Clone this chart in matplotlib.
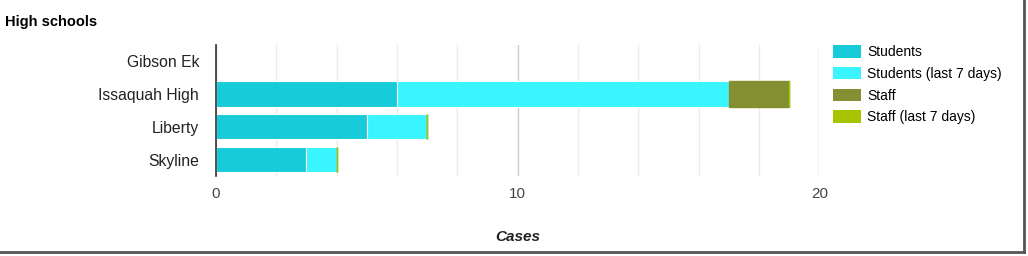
import numpy as np
import matplotlib
matplotlib.use("Agg")
import matplotlib.pyplot as plt
from matplotlib.lines import Line2D
from matplotlib.patches import Patch

schools = ["Gibson Ek", "Issaquah High", "Liberty", "Skyline"]
students = [np.nan, 6, 5, 3]
students_7d = [np.nan, 11, 2, 1]
staff = [np.nan, 2, 0, 0]
staff_7d = [np.nan, 0, 0, 0]

series = ["Students", "Students (last 7 days)", "Staff", "Staff (last 7 days)"]
colors = ["#17cbd9", "#3af4fe", "#848f32", "#a8c400"]
x_ticks = [0, 10, 20]

plt.rcParams["font.family"] = ["Liberation Sans", "DejaVu Sans"]

fig = plt.figure(figsize=(10.28, 2.56), dpi=100)
ax = fig.add_axes([0.21, 0.3125, 0.587, 0.512])

y = np.arange(len(schools))
left = np.zeros(len(schools))
for vals, col in zip([students, students_7d, staff, staff_7d], colors):
    v = np.nan_to_num(np.array(vals, dtype=float))
    mask = ~np.isnan(np.array(vals, dtype=float))
    if col == colors[-1] or col == colors[2]:
        ax.barh(y[mask], v[mask], left=left[mask], height=0.77, color=col,
                edgecolor=col, linewidth=1.0, zorder=3)
    else:
        ax.barh(y[mask], v[mask], left=left[mask], height=0.77, color=col,
                edgecolor="white", linewidth=0.8, zorder=3)
    left = left + v

ax.set_xlim(0, 20)
ax.set_ylim(len(schools) - 0.5, -0.5)
ax.set_yticks(y)
ax.set_yticklabels(schools, fontsize=11.3, color="#222222")
ax.set_xticks(x_ticks)
ax.set_xticklabels([str(t) for t in x_ticks], fontsize=11, color="#444444")
ax.set_xticks(np.arange(0, 21, 2), minor=True)
ax.tick_params(axis="y", length=0, pad=12)
ax.tick_params(axis="x", which="both", length=0, pad=8)
ax.grid(axis="x", which="minor", color="#ebebeb", linewidth=1, zorder=0)
ax.grid(axis="x", which="major", color="#cccccc", linewidth=1, zorder=0)
for s in ["top", "right", "bottom"]:
    ax.spines[s].set_visible(False)
ax.spines["left"].set_color("#333333")
ax.spines["left"].set_linewidth(1.2)
ax.spines["left"].set_zorder(4)

ax.set_xlabel("Cases", fontsize=11, fontstyle="italic", fontweight="bold",
              color="#222222", labelpad=21)

fig.text(0.005, 0.915, "High schools", fontsize=10.5, fontweight="bold",
         color="#000000", va="center")

handles = [Patch(facecolor=c, edgecolor="none") for c in colors]
fig.legend(handles, series, loc="upper left", bbox_to_anchor=(0.8105, 0.823),
           frameon=False, fontsize=10, handlelength=2.0, handleheight=1.0,
           labelspacing=0.55, handletextpad=0.45, borderaxespad=0,
           borderpad=0)

# screenshot frame
fig.add_artist(Line2D([0.0, 0.9965], [0.0156, 0.0156], transform=fig.transFigure,
                      color="#555555", linewidth=2.0))
fig.add_artist(Line2D([0.9965, 0.9965], [0.0156, 1.0], transform=fig.transFigure,
                      color="#555555", linewidth=2.0))

fig.savefig("out.png", dpi=100)
